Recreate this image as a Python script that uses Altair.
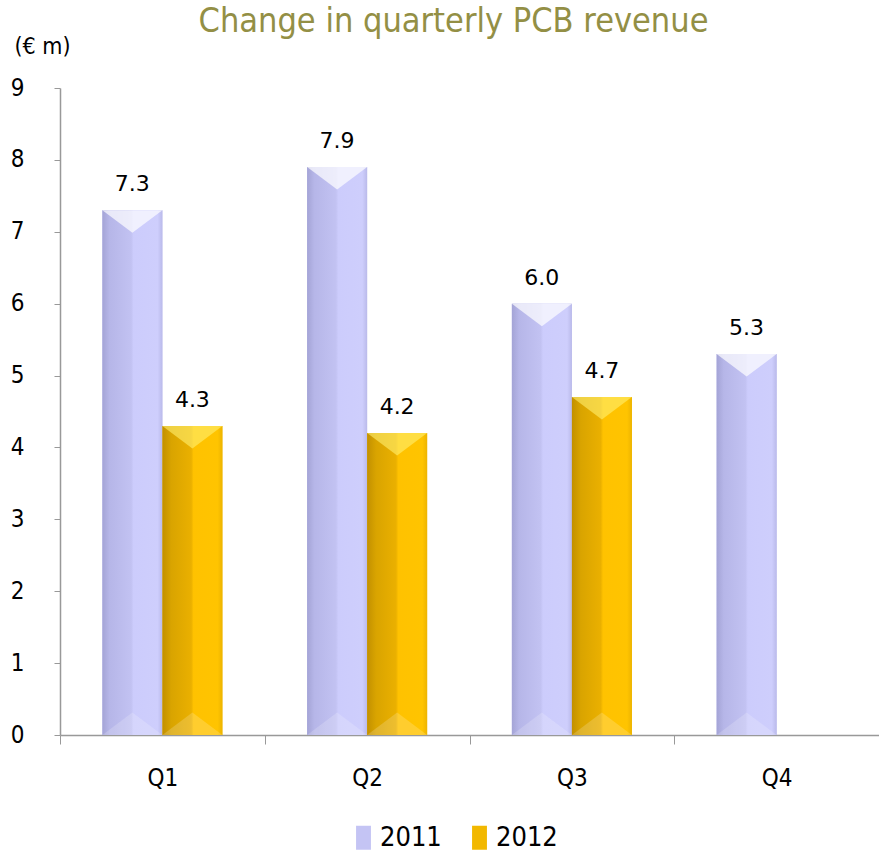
import altair as alt
import pandas as pd

quarters = ["Q1", "Q2", "Q3", "Q4", "Q1", "Q2", "Q3"]
years = ["2011", "2011", "2011", "2011", "2012", "2012", "2012"]
values = [7.3, 7.9, 6.0, 5.3, 4.3, 4.2, 4.7]
labels = ["7.3", "7.9", "6.0", "5.3", "4.3", "4.2", "4.7"]
y_ticks = [0, 1, 2, 3, 4, 5, 6, 7, 8, 9]

df = pd.DataFrame({"quarter": quarters, "year": years, "value": values, "label": labels})

FONT = "DejaVu Sans Condensed"

x_enc = alt.X(
    "quarter:N",
    sort=["Q1", "Q2", "Q3", "Q4"],
    scale=alt.Scale(paddingInner=0, paddingOuter=0),
    axis=alt.Axis(
        title=None, labelAngle=0, labelFontSize=24, labelFont=FONT, labelColor="#000",
        labelPadding=22, tickBand="extent", tickSize=9, tickColor="#999",
        domainColor="#999", domainWidth=1.5, grid=False,
    ),
)
xo_enc = alt.XOffset("year:N", scale=alt.Scale(paddingInner=0, paddingOuter=0.706))
y_enc = alt.Y(
    "value:Q",
    scale=alt.Scale(domain=[0, 9], nice=False),
    axis=alt.Axis(
        title="(€ m)", titleAngle=0, titleAlign="left", titleBaseline="middle",
        titleX=-46, titleY=-42, titleFontSize=23, titleFont=FONT, titleFontWeight="normal",
        values=y_ticks, format="d", labelFontSize=24, labelFont=FONT, labelColor="#000",
        labelPadding=30, tickSize=6, tickColor="#999", domainColor="#999",
        domainWidth=1.5, grid=False,
    ),
)

base = alt.Chart(df).encode(x=x_enc, xOffset=xo_enc, y=y_enc)

legend_bars = base.mark_bar().encode(
    color=alt.Color(
        "year:N",
        scale=alt.Scale(domain=["2011", "2012"], range=["#C4C4F4", "#F2B800"]),
        legend=alt.Legend(
            title=None, orient="none", direction="horizontal", legendX=290, legendY=736,
            symbolType="M -0.62 -1 L 0.62 -1 L 0.62 1 L -0.62 1 Z", symbolSize=576,
            symbolStrokeWidth=0, labelFontSize=27, labelFont=FONT, labelColor="#000",
            columnPadding=24, labelOffset=3,
        ),
    )
)

grad_2011 = alt.Gradient(
    gradient="linear", x1=0, x2=1, y1=0, y2=0,
    stops=[
        alt.GradientStop(offset=0, color="#A4A4D6"),
        alt.GradientStop(offset=0.12, color="#B6B6E8"),
        alt.GradientStop(offset=0.48, color="#C2C2F2"),
        alt.GradientStop(offset=0.52, color="#CCCCFC"),
        alt.GradientStop(offset=0.92, color="#CECEFC"),
        alt.GradientStop(offset=1, color="#BABAEA"),
    ],
)
grad_2012 = alt.Gradient(
    gradient="linear", x1=0, x2=1, y1=0, y2=0,
    stops=[
        alt.GradientStop(offset=0, color="#C29000"),
        alt.GradientStop(offset=0.15, color="#D9A400"),
        alt.GradientStop(offset=0.48, color="#EAB000"),
        alt.GradientStop(offset=0.52, color="#FFC200"),
        alt.GradientStop(offset=0.92, color="#FFC400"),
        alt.GradientStop(offset=1, color="#EDB400"),
    ],
)

bars_2011 = base.transform_filter(alt.datum.year == "2011").mark_bar(color=grad_2011)
bars_2012 = base.transform_filter(alt.datum.year == "2012").mark_bar(color=grad_2012)

bevel_path = "M -1 0 L 1 0 L 0 0.75 Z"
bevel_top_2011 = base.transform_filter(alt.datum.year == "2011").mark_point(
    shape=bevel_path, size=3600, filled=True, color="#FFFFFF", opacity=0.7, strokeWidth=0
)
bevel_top_2012 = base.transform_filter(alt.datum.year == "2012").mark_point(
    shape=bevel_path, size=3600, filled=True, color="#FFF070", opacity=0.6, strokeWidth=0
)
bevel_bottom = base.mark_point(
    shape="M -1 0 L 1 0 L 0 -0.75 Z", size=3600, filled=True, color="#FFFFFF",
    opacity=0.18, strokeWidth=0,
).encode(y=alt.datum(0))

text = base.mark_text(
    baseline="bottom", dy=-14, fontSize=22, font="DejaVu Sans", color="#000"
).encode(text="label:N")

chart = (
    alt.layer(legend_bars, bars_2011, bars_2012, bevel_top_2011, bevel_top_2012,
              bevel_bottom, text)
    .properties(
        width=819,
        height=647,
        title=alt.TitleParams(
            "Change in quarterly PCB revenue", fontSize=34, font=FONT,
            fontWeight="normal", color="#938F45", anchor="middle", dx=-16, offset=-4,
        ),
        autosize=alt.AutoSizeParams(type="none"),
        padding={"left": 60, "top": 88, "right": 0, "bottom": 118},
    )
    .configure_view(stroke=None)
)

chart.save("out.html", embed_options={"renderer": "svg", "actions": False})
